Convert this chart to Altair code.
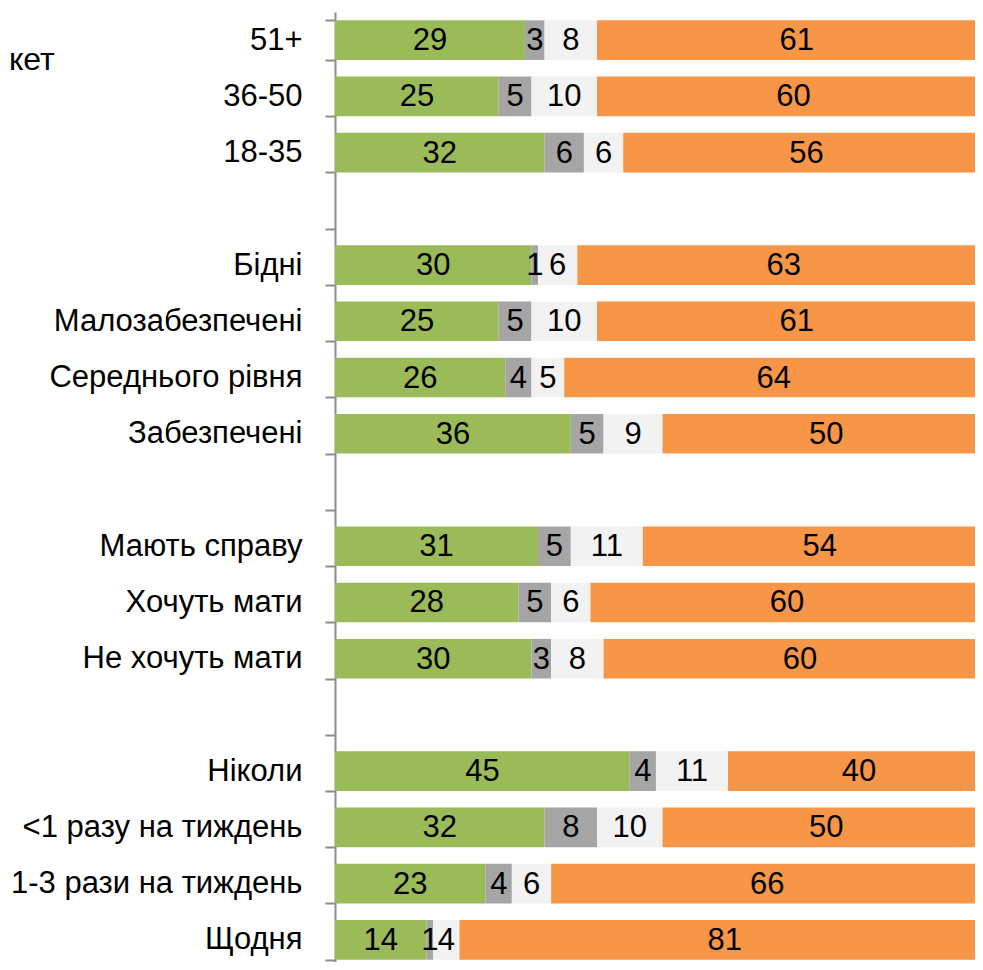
import altair as alt
import pandas as pd

categories = ["51+", "36-50", "18-35", " ",
              "Бідні", "Малозабезпечені", "Середнього рівня", "Забезпечені", "  ",
              "Мають справу", "Хочуть мати", "Не хочуть мати", "   ",
              "Ніколи", "<1 разу на тиждень", "1-3 рази на тиждень", "Щодня"]
series = ["s1", "s2", "s3", "s4"]
colors = ["#9BBB59", "#A5A5A5", "#F2F2F2", "#F79646"]

green = [29, 25, 32, None, 30, 25, 26, 36, None, 31, 28, 30, None, 45, 32, 23, 14]
gray = [3, 5, 6, None, 1, 5, 4, 5, None, 5, 5, 3, None, 4, 8, 4, 1]
light = [8, 10, 6, None, 6, 10, 5, 9, None, 11, 6, 8, None, 11, 10, 6, 4]
orange = [61, 60, 56, None, 63, 61, 64, 50, None, 54, 60, 60, None, 40, 50, 66, 81]

rows = []
for i, cat in enumerate(categories):
    vals = [green[i], gray[i], light[i], orange[i]]
    start = 0
    for j, v in enumerate(vals):
        if v is None:
            continue
        rows.append({"cat": cat, "series": series[j], "order": j, "value": v,
                     "start": start, "end": start + v, "mid": start + v / 2})
        start += v
df = pd.DataFrame(rows)

FONT = "Liberation Sans"

y_enc = alt.Y("cat:N", sort=categories,
              scale=alt.Scale(domain=categories, range=[0, 956],
                              paddingInner=0.295, paddingOuter=0.1475),
              axis=alt.Axis(title=None, labelFontSize=31, labelFont=FONT,
                            labelColor="black", tickSize=10, labelPadding=23,
                            domainColor="#8C8C8C", tickColor="#8C8C8C",
                            domainWidth=2, tickWidth=2, tickBand="extent",
                            labelLimit=400))
x_scale = alt.Scale(domain=[0, 100], range=[0, 655])

base = alt.Chart(df)
bars = base.mark_bar().encode(
    x=alt.X("start:Q", scale=x_scale, axis=None),
    x2="end:Q",
    y=y_enc,
    color=alt.Color("series:N", scale=alt.Scale(domain=series, range=colors), legend=None),
)
labels = base.mark_text(fontSize=31, font=FONT, color="black", baseline="middle", dy=1).encode(
    x=alt.X("mid:Q", scale=x_scale),
    y=alt.Y("cat:N", sort=categories),
    text=alt.Text("value:Q"),
)
side = alt.Chart(pd.DataFrame({"t": ["кет"]})).mark_text(
    fontSize=32, font=FONT, color="black", align="left", baseline="alphabetic"
).encode(x=alt.value(-326), y=alt.value(57.5), text="t:N")

chart = alt.layer(bars, labels, side).properties(
    width=640, height=950,
    autosize=alt.AutoSizeParams(type="none"),
    padding={"left": 327, "top": 4, "right": 0, "bottom": 0},
    background="white",
).configure_view(stroke=None)

chart.save("out.html", embed_options={"renderer": "svg", "actions": False})
